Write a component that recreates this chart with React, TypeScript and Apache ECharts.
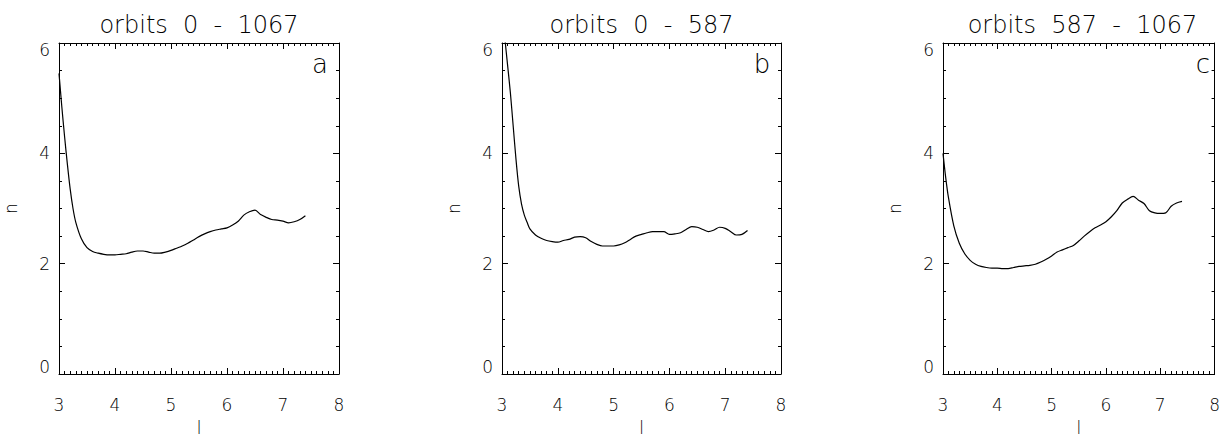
import React, { useEffect, useRef } from "react";
import * as echarts from "echarts";

// panel a: orbits 0 - 1067
const lA = [3.0, 3.05, 3.1, 3.15, 3.2, 3.25, 3.3, 3.4, 3.5, 3.6, 3.7, 3.8, 3.9, 4.0, 4.1, 4.2, 4.3, 4.4, 4.5, 4.6, 4.7, 4.8, 4.9, 5.0, 5.1, 5.2, 5.3, 5.4, 5.5, 5.6, 5.7, 5.8, 5.9, 6.0, 6.1, 6.2, 6.3, 6.4, 6.5, 6.6, 6.7, 6.8, 6.9, 7.0, 7.1, 7.2, 7.3, 7.4];
const nA = [5.45, 4.85, 4.3, 3.8, 3.35, 3.0, 2.75, 2.45, 2.29, 2.22, 2.19, 2.17, 2.16, 2.16, 2.17, 2.18, 2.21, 2.23, 2.23, 2.21, 2.19, 2.19, 2.21, 2.24, 2.28, 2.32, 2.37, 2.43, 2.49, 2.54, 2.58, 2.61, 2.63, 2.65, 2.7, 2.77, 2.88, 2.94, 2.97, 2.89, 2.84, 2.8, 2.79, 2.77, 2.74, 2.76, 2.8, 2.87];

// panel b: orbits 0 - 587
const lB = [3.0, 3.05, 3.1, 3.15, 3.2, 3.25, 3.3, 3.35, 3.4, 3.45, 3.5, 3.6, 3.7, 3.8, 3.9, 4.0, 4.1, 4.2, 4.3, 4.4, 4.5, 4.6, 4.7, 4.8, 4.9, 5.0, 5.1, 5.2, 5.3, 5.4, 5.5, 5.6, 5.7, 5.8, 5.9, 6.0, 6.1, 6.2, 6.3, 6.4, 6.5, 6.6, 6.7, 6.8, 6.9, 7.0, 7.1, 7.2, 7.3, 7.4];
const nB = [6.7, 6.1, 5.6, 5.1, 4.5, 3.9, 3.4, 3.08, 2.88, 2.75, 2.63, 2.52, 2.46, 2.42, 2.4, 2.39, 2.42, 2.44, 2.48, 2.49, 2.47, 2.4, 2.35, 2.32, 2.32, 2.32, 2.34, 2.38, 2.44, 2.5, 2.53, 2.56, 2.58, 2.58, 2.58, 2.53, 2.54, 2.56, 2.62, 2.67, 2.66, 2.62, 2.58, 2.61, 2.66, 2.64, 2.58, 2.52, 2.53, 2.6];

// panel c: orbits 587 - 1067
const lC = [3.0, 3.05, 3.1, 3.2, 3.3, 3.4, 3.5, 3.6, 3.7, 3.8, 3.9, 4.0, 4.1, 4.2, 4.3, 4.4, 4.5, 4.6, 4.7, 4.8, 4.9, 5.0, 5.1, 5.2, 5.3, 5.4, 5.5, 5.6, 5.7, 5.8, 5.9, 6.0, 6.1, 6.2, 6.3, 6.4, 6.5, 6.6, 6.7, 6.8, 6.9, 7.0, 7.1, 7.2, 7.3, 7.4];
const nC = [4.0, 3.56, 3.2, 2.68, 2.37, 2.18, 2.06, 1.99, 1.95, 1.93, 1.92, 1.92, 1.91, 1.91, 1.93, 1.95, 1.96, 1.97, 1.99, 2.03, 2.08, 2.14, 2.21, 2.25, 2.29, 2.33, 2.41, 2.5, 2.58, 2.65, 2.7, 2.76, 2.85, 2.96, 3.1, 3.17, 3.22, 3.15, 3.09, 2.96, 2.92, 2.91, 2.92, 3.04, 3.1, 3.13];

const titles = ["orbits  0  -  1067", "orbits  0  -  587", "orbits  587  -  1067"];
const letters = ["a", "b", "c"];
const xTicks = { min: 3, max: 8, interval: 1 };
const yTicks = { min: 0, max: 6, interval: 2 };

const FONT = "DejaVu Sans";
const WEIGHT = 200;

export default function App() {
  const ref = useRef<HTMLDivElement>(null);
  useEffect(() => {
    if (!ref.current) return;
    const chart = echarts.init(ref.current, undefined, { renderer: "svg" });
    const panels = [
      { left: 59, width: 280, l: lA, n: nA },
      { left: 502, width: 279, l: lB, n: nB },
      { left: 943, width: 279, l: lC, n: nC },
    ];
    const lineStyle = { color: "#000", width: 1 };
    const grid: any[] = [];
    const xAxis: any[] = [];
    const yAxis: any[] = [];
    const series: any[] = [];
    const graphic: any[] = [];
    const txt = { color: "#000", fontSize: 17, fontFamily: FONT, fontWeight: WEIGHT };
    panels.forEach((p, i) => {
      grid.push({ left: p.left, top: 43, width: p.width, height: 344, containLabel: false });
      const xBase = {
        type: "value",
        gridIndex: i,
        min: xTicks.min,
        max: xTicks.max,
        interval: xTicks.interval,
        axisLine: { show: true, onZero: false, lineStyle },
        axisTick: { show: true, inside: true, length: 6, lineStyle },
        minorTick: { show: true, splitNumber: 10, length: 3, lineStyle },
        splitLine: { show: false },
        minorSplitLine: { show: false },
      };
      xAxis.push({
        ...xBase,
        position: "bottom",
        axisLabel: { show: true, ...txt, margin: 22 },
        name: "l",
        nameLocation: "middle",
        nameGap: 45,
        nameTextStyle: { ...txt },
      });
      xAxis.push({ ...xBase, position: "top", axisLabel: { show: false } });
      const yBase = {
        type: "value",
        gridIndex: i,
        min: yTicks.min,
        max: yTicks.max,
        interval: yTicks.interval,
        axisLine: { show: true, onZero: false, lineStyle },
        axisTick: { show: true, inside: true, length: 6, lineStyle },
        minorTick: { show: true, splitNumber: 4, length: 3, lineStyle },
        splitLine: { show: false },
        minorSplitLine: { show: false },
      };
      yAxis.push({
        ...yBase,
        position: "left",
        axisLabel: {
          show: true,
          ...txt,
          lineHeight: 14,
          margin: 9,
          verticalAlignMaxLabel: "top",
          verticalAlignMinLabel: "bottom",
        },
        name: "n",
        nameLocation: "middle",
        nameGap: 40,
        nameTextStyle: { ...txt },
      });
      yAxis.push({ ...yBase, position: "right", axisLabel: { show: false } });
      series.push({
        type: "line",
        xAxisIndex: i * 2,
        yAxisIndex: i * 2,
        data: p.l.map((x, k) => [x, p.n[k]]),
        showSymbol: false,
        smooth: 0.3,
        clip: true,
        lineStyle: { color: "#000", width: 1.2 },
      });
      graphic.push({
        type: "text",
        x: p.left + p.width / 2,
        y: 25,
        style: {
          text: titles[i],
          fontSize: 24,
          fontFamily: FONT,
          fontWeight: WEIGHT,
          fill: "#000",
          textAlign: "center",
          textVerticalAlign: "middle",
        },
      });
      graphic.push({
        type: "text",
        x: p.left + p.width - 19,
        y: 64,
        style: {
          text: letters[i],
          fontSize: 26,
          fontFamily: FONT,
          fontWeight: WEIGHT,
          fill: "#000",
          textAlign: "center",
          textVerticalAlign: "middle",
        },
      });
    });
    chart.setOption({
      animation: false,
      backgroundColor: "#fff",
      grid,
      xAxis,
      yAxis,
      series,
      graphic,
    });
    return () => chart.dispose();
  }, []);
  return (
    <div
      ref={ref}
      style={{ position: "absolute", left: 0, top: 0, width: 1223, height: 441 }}
    />
  );
}
